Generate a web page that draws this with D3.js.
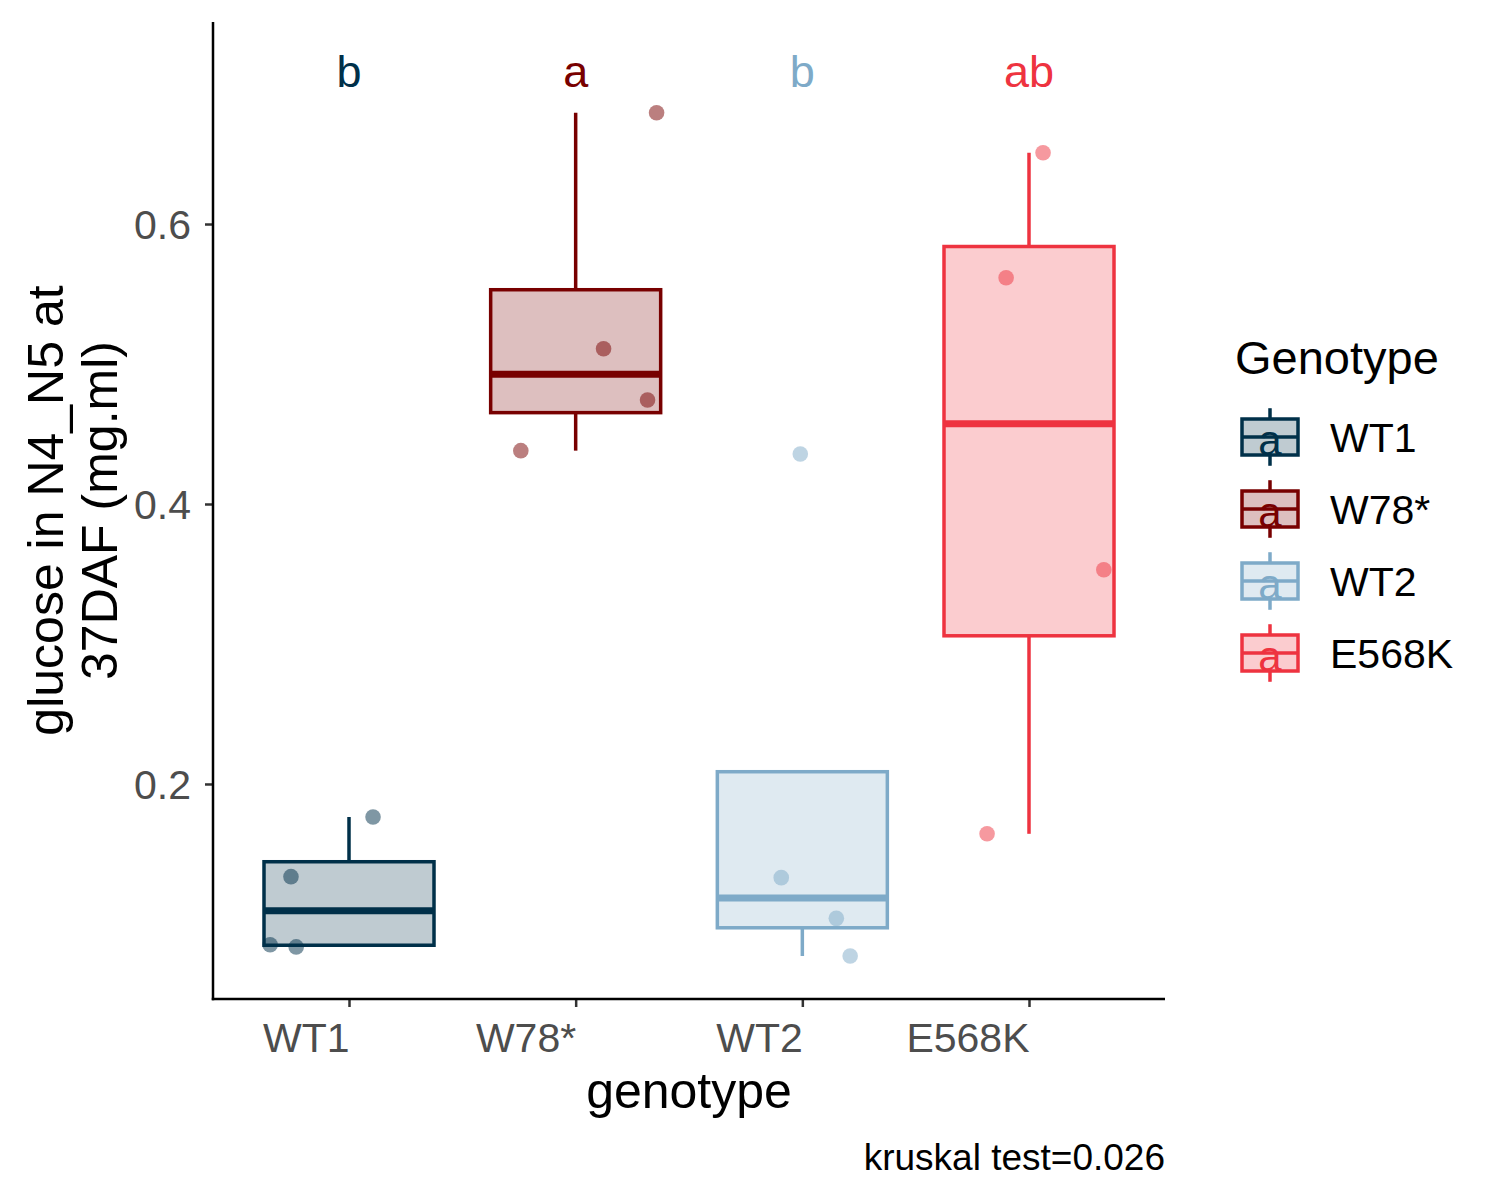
<!DOCTYPE html>
<html>
<head>
<meta charset="utf-8">
<script src="https://cdn.jsdelivr.net/npm/d3@7"></script>
<style>
  html, body { margin: 0; padding: 0; background: #ffffff; }
  svg { display: block; font-family: "Liberation Sans", Arial, sans-serif; }
</style>
</head>
<body>
<svg id="chart" width="1500" height="1200"></svg>
<script>
// ---- data ----
const categories = ["WT1", "W78*", "WT2", "E568K"];
const colors = ["#003049", "#780000", "#7eaac8", "#ee3340"];
const groupLetters = ["b", "a", "b", "ab"];
const valuesWT1   = [0.1338, 0.1764, 0.0852, 0.0836];
const valuesW78   = [0.6795, 0.5109, 0.4743, 0.4381];
const valuesWT2   = [0.4357, 0.1331, 0.1040, 0.0771];
const valuesE568K = [0.6509, 0.5616, 0.3530, 0.1644];
// horizontal jitter (fraction of category step)
const jitterWT1   = [-0.256, 0.106, -0.348, -0.233];
const jitterW78   = [0.357, 0.123, 0.317, -0.242];
const jitterWT2   = [-0.009, -0.093, 0.150, 0.211];
const jitterE568K = [0.062, -0.101, 0.330, -0.185];
const yTicks = [0.2, 0.4, 0.6];
const letterValue = 0.698;
const caption = "kruskal test=0.026";

const allValues = [valuesWT1, valuesW78, valuesWT2, valuesE568K];
const allJitter = [jitterWT1, jitterW78, jitterWT2, jitterE568K];

// ---- layout ----
const svg = d3.select("#chart");
const plot = { left: 213, right: 1165, top: 22, bottom: 999 };

const x = d3.scalePoint().domain(categories).range([plot.left, plot.right]).padding(0.6);
const step = x.step();
const y = d3.scaleLinear().domain([0.0464, 0.7443]).range([plot.bottom, plot.top]);

// ---- stats (R type-7 quantiles) ----
const stats = categories.map((c, i) => {
  const v = allValues[i].slice().sort(d3.ascending);
  const q1 = d3.quantile(v, 0.25), med = d3.quantile(v, 0.5), q3 = d3.quantile(v, 0.75);
  const iqr = q3 - q1;
  const inside = v.filter(d => d >= q1 - 1.5 * iqr && d <= q3 + 1.5 * iqr);
  return { cat: c, color: colors[i], q1, med, q3, lo: d3.min(inside), hi: d3.max(inside) };
});

const boxW = step * 0.75;
const lw = 3.5;
const g = svg.append("g");

// whiskers
stats.forEach(s => {
  const cx = x(s.cat);
  if (s.hi > s.q3) g.append("line").attr("x1", cx).attr("x2", cx).attr("y1", y(s.q3)).attr("y2", y(s.hi))
    .attr("stroke", s.color).attr("stroke-width", lw);
  if (s.lo < s.q1) g.append("line").attr("x1", cx).attr("x2", cx).attr("y1", y(s.q1)).attr("y2", y(s.lo))
    .attr("stroke", s.color).attr("stroke-width", lw);
});
// boxes
stats.forEach(s => {
  const cx = x(s.cat);
  g.append("rect").attr("x", cx - boxW / 2).attr("y", y(s.q3)).attr("width", boxW).attr("height", y(s.q1) - y(s.q3))
    .attr("fill", s.color).attr("fill-opacity", 0.25).attr("stroke", s.color).attr("stroke-width", lw);
  g.append("line").attr("x1", cx - boxW / 2).attr("x2", cx + boxW / 2).attr("y1", y(s.med)).attr("y2", y(s.med))
    .attr("stroke", s.color).attr("stroke-width", 7);
});
// jitter points
categories.forEach((c, i) => {
  g.selectAll(null).data(allValues[i]).enter().append("circle")
    .attr("cx", (d, j) => x(c) + allJitter[i][j] * step)
    .attr("cy", d => y(d))
    .attr("r", 7.8)
    .attr("fill", colors[i]).attr("fill-opacity", 0.5);
});
// letters
svg.selectAll(null).data(categories).enter().append("text")
  .attr("x", d => x(d)).attr("y", y(letterValue))
  .attr("text-anchor", "middle").attr("font-size", 45)
  .attr("fill", (d, i) => colors[i])
  .text((d, i) => groupLetters[i]);

// ---- axes ----
const yAxis = d3.axisLeft(y).tickValues(yTicks).tickFormat(d3.format(".1f")).tickSize(8).tickPadding(14);
const yg = svg.append("g").attr("transform", `translate(${plot.left},0)`).call(yAxis);
yg.select(".domain").remove();
yg.selectAll(".tick line").attr("stroke", "#333333").attr("stroke-width", 2.5);
yg.selectAll(".tick text").attr("font-size", 41).attr("fill", "#4d4d4d").attr("font-family", "Liberation Sans, Arial, sans-serif").attr("dy", "0.36em");

const xAxis = d3.axisBottom(x).tickSize(8).tickPadding(6);
const xg = svg.append("g").attr("transform", `translate(0,${plot.bottom})`).call(xAxis);
xg.select(".domain").remove();
xg.selectAll(".tick line").attr("stroke", "#333333").attr("stroke-width", 2.5);
xg.selectAll(".tick text").attr("font-size", 41).attr("fill", "#4d4d4d").attr("font-family", "Liberation Sans, Arial, sans-serif")
  .attr("text-anchor", "end").attr("dy", "0.95em");

svg.append("line").attr("x1", plot.left).attr("x2", plot.left).attr("y1", plot.top).attr("y2", plot.bottom + 1.25)
  .attr("stroke", "#000").attr("stroke-width", 2.5);
svg.append("line").attr("x1", plot.left - 1.25).attr("x2", plot.right).attr("y1", plot.bottom).attr("y2", plot.bottom)
  .attr("stroke", "#000").attr("stroke-width", 2.5);

// axis titles
svg.append("text").attr("x", (plot.left + plot.right) / 2).attr("y", 1108)
  .attr("text-anchor", "middle").attr("font-size", 50).attr("fill", "#000").text("genotype");
const yt = svg.append("text").attr("transform", `translate(0,${(plot.top + plot.bottom) / 2}) rotate(-90)`)
  .attr("text-anchor", "middle").attr("font-size", 50).attr("fill", "#000");
yt.append("tspan").attr("x", 0).attr("y", 63).text("glucose in N4_N5 at");
yt.append("tspan").attr("x", 0).attr("y", 117).text("37DAF (mg.ml)");

// caption
svg.append("text").attr("x", plot.right).attr("y", 1170).attr("text-anchor", "end")
  .attr("font-size", 37).attr("fill", "#000").text(caption);

// ---- legend ----
const leg = svg.append("g");
leg.append("text").attr("x", 1235).attr("y", 374).attr("font-size", 47).attr("fill", "#000").text("Genotype");
const keyCx = 1270, keyW = 56, keyH = 72, key0 = 437, keyStep = 72;
categories.forEach((c, i) => {
  const cy = key0 + i * keyStep;
  const col = colors[i];
  leg.append("line").attr("x1", keyCx).attr("x2", keyCx).attr("y1", cy - keyH * 0.4).attr("y2", cy + keyH * 0.4)
    .attr("stroke", col).attr("stroke-width", lw);
  leg.append("rect").attr("x", keyCx - keyW / 2).attr("y", cy - keyH * 0.25).attr("width", keyW).attr("height", keyH * 0.5)
    .attr("fill", "#fff");
  leg.append("rect").attr("x", keyCx - keyW / 2).attr("y", cy - keyH * 0.25).attr("width", keyW).attr("height", keyH * 0.5)
    .attr("fill", col).attr("fill-opacity", 0.25).attr("stroke", col).attr("stroke-width", lw);
  leg.append("line").attr("x1", keyCx - keyW / 2).attr("x2", keyCx + keyW / 2).attr("y1", cy).attr("y2", cy)
    .attr("stroke", col).attr("stroke-width", lw);
  leg.append("text").attr("x", keyCx).attr("y", cy + 18).attr("text-anchor", "middle").attr("font-size", 42)
    .attr("fill", col).text("a");
  leg.append("text").attr("x", 1330).attr("y", cy + 15).attr("font-size", 41).attr("fill", "#000").text(c);
});
</script>
</body>
</html>
